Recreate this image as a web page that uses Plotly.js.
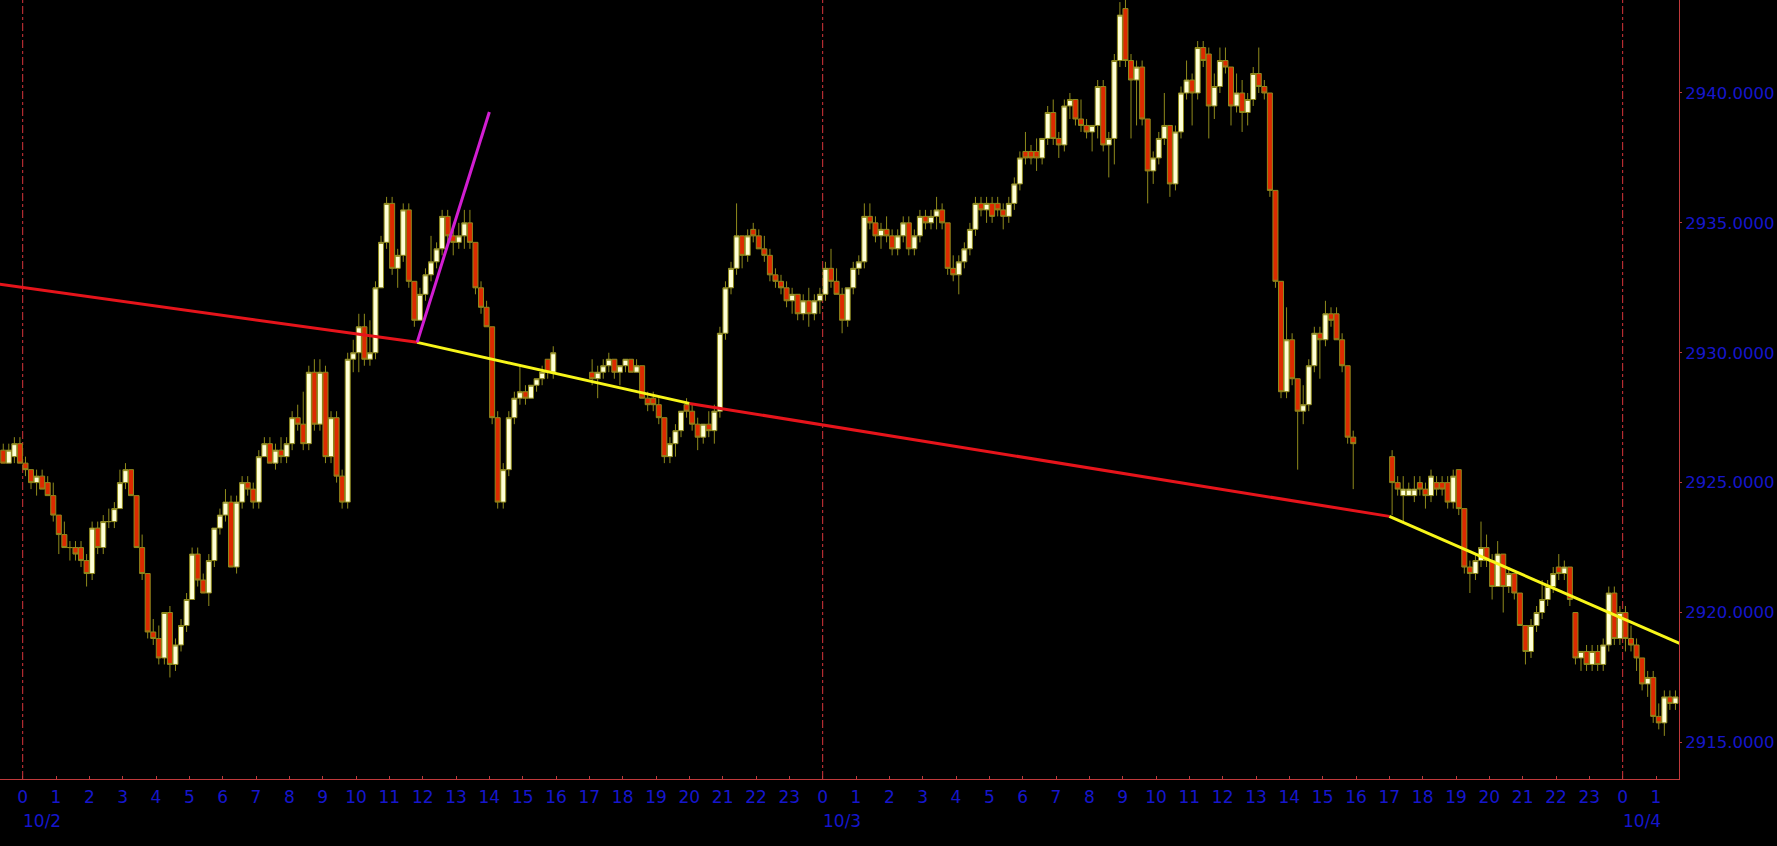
<!DOCTYPE html>
<html>
<head>
<meta charset="utf-8">
<script src="https://cdn.plot.ly/plotly-3.0.1.min.js"></script>
<style>
html,body{margin:0;padding:0;background:#000;overflow:hidden;}
#chart{width:1777px;height:846px;}
</style>
</head>
<body>
<div id="chart"></div>
<script>
// ---- sessions (10-minute bars) ----
const sessionStarts = ['2018-10-01T23:20', '2018-10-02T17:00', '2018-10-03T17:00'];
const sessionBars = [100, 138, 52];
const barMinutes = 10;

// ---- OHLC values, one line per hour ----
const openP = [
 2926.25,2925.75,2926.0,2926.5,
 2925.75,2925.5,2925.0,2925.25,2925.0,2924.5,
 2923.75,2923.0,2922.5,2922.5,2922.5,2922.0,
 2921.5,2923.25,2922.5,2923.5,2923.5,2924.0,
 2925.0,2925.5,2924.5,2922.5,2921.5,2919.25,
 2919.0,2918.25,2920.0,2918.0,2918.75,2919.5,
 2920.5,2922.25,2921.25,2920.75,2922.0,2923.25,
 2923.75,2924.25,2921.75,2924.25,2925.0,2924.75,
 2924.25,2926.0,2926.5,2925.75,2926.25,2926.0,
 2926.5,2927.5,2927.25,2926.5,2929.25,2927.25,
 2929.25,2926.0,2927.5,2925.25,2924.25,2929.75,
 2930.0,2931.0,2929.75,2930.0,2932.5,2934.25,
 2935.75,2933.25,2933.75,2935.5,2932.75,2931.25,
 2932.25,2933.0,2933.5,2934.0,2935.25,2934.5,
 2934.25,2934.5,2935.0,2934.25,2932.5,2931.75,
 2931.0,2927.5,2924.25,2925.5,2927.5,2928.25,
 2928.5,2928.25,2928.75,2929.0,2929.75,2929.25,
 // 10/2 17:00
 2929.25,2929.0,2929.25,2929.5,2929.75,2929.25,
 2929.5,2929.75,2929.25,2929.5,2928.25,2928.25,
 2928.0,2927.5,2926.0,2926.5,2927.0,2928.0,
 2927.75,2927.25,2926.75,2927.25,2927.0,2927.75,
 2930.75,2932.5,2933.25,2934.5,2933.75,2934.75,
 2934.5,2934.0,2933.75,2933.0,2932.75,2932.5,
 2932.0,2932.25,2931.5,2932.0,2931.5,2932.0,
 2932.25,2933.25,2932.75,2932.25,2931.25,2932.5,
 2933.25,2933.5,2935.25,2935.0,2934.5,2934.75,
 2934.5,2934.0,2934.5,2935.0,2934.0,2934.5,
 2935.25,2935.0,2935.25,2935.5,2935.0,2933.25,
 2933.0,2933.5,2934.0,2934.75,2935.75,2935.5,
 2935.75,2935.75,2935.5,2935.25,2935.75,2936.5,
 2937.75,2937.75,2937.75,2937.5,2938.25,2939.25,
 2938.25,2938.0,2939.5,2939.75,2939.0,2938.75,
 2938.5,2938.75,2940.25,2938.0,2938.25,2941.25,
 2943.25,2941.25,2940.5,2941.0,2939.0,2937.0,
 2937.5,2938.25,2938.75,2936.5,2938.5,2940.0,
 2940.5,2940.0,2941.75,2941.5,2939.5,2940.25,
 2941.25,2941.0,2939.5,2940.0,2939.25,2939.75,
 2940.75,2940.25,2940.0,2936.25,2932.75,2928.5,
 2930.5,2929.0,2927.75,2928.0,2929.5,2930.75,
 2930.5,2931.5,2931.5,2930.5,2929.5,2926.75,
 // 10/3 17:00
 2926.0,2925.0,2924.5,2924.5,2924.5,2925.0,
 2924.75,2924.5,2925.0,2925.0,2925.0,2924.25,
 2925.5,2924.0,2921.75,2921.5,2922.0,2922.5,
 2922.0,2921.0,2922.25,2921.0,2921.5,2920.75,
 2919.5,2918.5,2919.5,2920.0,2920.5,2921.0,
 2921.75,2921.5,2921.75,2920.0,2918.25,2918.5,
 2918.0,2918.5,2918.0,2918.75,2920.75,2919.0,
 2920.0,2919.0,2918.75,2918.25,2917.25,2917.5,
 2916.0,2915.75,2916.75,2916.5
];
const highP = [
 2926.5,2926.5,2926.75,2926.75,
 2926.0,2925.5,2925.5,2925.5,2925.25,2925.0,
 2923.75,2923.5,2922.75,2922.75,2922.75,2922.25,
 2923.5,2923.5,2923.75,2924.0,2924.25,2925.5,
 2925.75,2925.5,2924.5,2923.0,2921.5,2919.75,
 2919.5,2920.0,2920.25,2919.0,2919.75,2920.75,
 2922.5,2922.5,2921.5,2922.25,2923.25,2924.0,
 2924.75,2924.5,2924.5,2925.25,2925.25,2925.0,
 2926.25,2926.75,2926.75,2926.5,2926.75,2926.75,
 2927.75,2928.0,2928.5,2929.5,2929.75,2929.75,
 2929.5,2927.75,2927.75,2925.5,2930.0,2930.5,
 2931.5,2931.5,2931.25,2932.75,2934.5,2936.0,
 2936.0,2934.0,2935.75,2935.75,2932.75,2932.5,
 2933.25,2934.5,2934.25,2935.5,2935.5,2934.75,
 2935.0,2935.5,2935.5,2934.25,2932.75,2932.0,
 2931.0,2927.75,2925.75,2927.75,2928.5,2929.5,
 2928.75,2928.75,2929.0,2929.5,2929.75,2930.25,
 // 10/2 17:00
 2929.75,2929.5,2929.75,2930.0,2929.75,2929.5,
 2929.75,2929.75,2929.75,2929.5,2928.5,2928.5,
 2928.25,2927.5,2926.75,2927.25,2927.75,2928.25,
 2928.0,2927.5,2927.25,2927.75,2928.0,2931.0,
 2932.75,2933.5,2935.75,2934.5,2934.75,2935.0,
 2934.75,2934.5,2934.0,2933.25,2933.0,2932.75,
 2932.5,2932.25,2932.25,2932.5,2932.25,2932.5,
 2933.5,2934.0,2933.25,2932.5,2932.5,2933.5,
 2933.75,2935.75,2935.75,2935.25,2935.0,2935.25,
 2934.75,2934.75,2935.25,2935.25,2934.75,2935.5,
 2935.5,2935.5,2936.0,2935.75,2935.0,2933.75,
 2933.75,2934.25,2935.0,2936.0,2936.0,2936.0,
 2936.0,2936.0,2935.75,2936.0,2936.75,2937.75,
 2938.5,2938.0,2938.25,2938.25,2939.5,2939.75,
 2938.5,2939.75,2940.0,2939.75,2939.75,2939.0,
 2938.75,2940.5,2940.5,2938.5,2941.5,2943.5,
 2943.75,2941.5,2941.25,2941.25,2939.0,2937.75,
 2938.5,2940.0,2938.75,2938.75,2940.25,2941.25,
 2940.75,2942.0,2942.0,2941.75,2940.75,2941.75,
 2941.75,2941.0,2940.75,2940.5,2940.0,2941.0,
 2941.75,2940.5,2940.0,2936.25,2932.75,2931.75,
 2930.75,2929.0,2928.75,2929.75,2931.0,2931.0,
 2932.0,2931.75,2931.75,2930.75,2929.5,2927.0,
 // 10/3 17:00
 2926.25,2925.25,2925.25,2925.0,2925.25,2925.25,
 2925.0,2925.5,2925.25,2925.25,2925.25,2925.5,
 2925.5,2924.0,2922.0,2922.25,2923.5,2923.0,
 2922.25,2922.75,2922.25,2921.75,2921.5,2920.75,
 2919.5,2919.75,2920.25,2921.25,2921.25,2921.75,
 2922.25,2922.0,2921.75,2920.0,2918.5,2918.75,
 2918.75,2918.75,2919.0,2921.0,2921.0,2920.25,
 2920.25,2919.5,2919.0,2918.25,2917.75,2917.75,
 2916.5,2917.0,2917.0,2917.0
];
const lowP = [
 2925.75,2925.75,2925.75,2925.75,
 2925.25,2924.75,2924.5,2924.75,2924.5,2923.5,
 2922.25,2922.5,2922.0,2922.0,2921.75,2921.0,
 2921.25,2922.25,2922.25,2923.25,2923.25,2924.0,
 2924.75,2924.5,2922.5,2921.25,2919.0,2918.75,
 2918.0,2918.0,2917.5,2917.75,2918.5,2919.25,
 2920.5,2921.0,2920.75,2920.25,2921.75,2923.0,
 2923.5,2921.75,2921.5,2924.0,2924.5,2924.0,
 2924.0,2926.0,2925.75,2925.5,2925.75,2925.75,
 2926.25,2927.0,2926.25,2926.25,2927.0,2927.0,
 2925.75,2925.75,2925.0,2924.0,2924.0,2929.25,
 2929.25,2929.5,2929.5,2929.75,2932.5,2934.0,
 2933.0,2932.5,2933.5,2932.5,2931.0,2931.25,
 2932.0,2932.75,2933.25,2933.75,2934.25,2933.75,
 2934.0,2934.0,2934.0,2932.25,2931.5,2931.0,
 2927.25,2924.0,2924.0,2925.25,2927.25,2928.0,
 2928.0,2928.25,2928.5,2928.75,2929.0,2929.0,
 // 10/2 17:00
 2928.75,2928.25,2929.0,2929.25,2929.0,2928.75,
 2929.25,2929.25,2929.25,2928.25,2927.75,2927.75,
 2927.25,2925.75,2925.75,2926.0,2926.75,2927.5,
 2927.0,2926.25,2926.5,2926.75,2926.5,2927.5,
 2930.5,2932.25,2933.0,2933.25,2933.5,2934.25,
 2934.0,2933.5,2932.75,2932.5,2932.25,2931.75,
 2931.5,2931.25,2931.25,2931.0,2931.25,2931.5,
 2932.0,2932.5,2932.25,2930.75,2931.0,2932.25,
 2933.0,2933.25,2934.75,2934.25,2934.0,2934.25,
 2933.75,2933.75,2934.25,2933.75,2933.75,2934.25,
 2934.75,2934.75,2934.75,2934.75,2933.0,2932.75,
 2932.25,2933.25,2933.75,2934.5,2935.25,2935.0,
 2935.0,2935.25,2934.75,2935.0,2935.5,2936.25,
 2937.25,2937.25,2937.0,2937.25,2938.0,2938.0,
 2937.5,2937.75,2939.0,2938.75,2938.5,2938.25,
 2937.75,2938.25,2937.75,2936.75,2937.25,2941.0,
 2941.0,2938.25,2938.75,2938.75,2935.75,2936.5,
 2937.25,2938.0,2936.0,2936.25,2938.25,2939.75,
 2938.75,2939.75,2941.0,2938.25,2939.0,2940.0,
 2940.75,2938.75,2939.25,2938.5,2938.75,2939.5,
 2940.0,2939.75,2936.0,2932.5,2928.25,2928.25,
 2928.75,2925.5,2927.25,2927.75,2929.25,2929.0,
 2930.25,2931.0,2930.5,2929.25,2926.5,2924.75,
 // 10/3 17:00
 2923.75,2924.5,2923.5,2924.5,2924.25,2924.5,
 2924.0,2924.25,2924.5,2924.5,2924.0,2924.0,
 2923.75,2921.5,2920.75,2921.25,2921.75,2921.75,
 2920.5,2921.0,2920.0,2920.75,2920.5,2919.5,
 2918.0,2918.25,2919.25,2919.75,2920.25,2920.75,
 2921.25,2921.25,2920.25,2918.0,2917.75,2917.75,
 2917.75,2917.75,2917.75,2918.5,2918.75,2918.75,
 2918.5,2918.5,2917.75,2917.0,2916.75,2915.75,
 2915.5,2915.25,2916.25,2916.25
];
const closeP = [
 2925.75,2926.25,2926.5,2925.75,
 2925.5,2925.0,2925.25,2924.75,2924.5,2923.75,
 2923.0,2922.5,2922.5,2922.25,2922.0,2921.5,
 2923.25,2922.5,2923.5,2923.5,2924.0,2925.0,
 2925.5,2924.5,2922.5,2921.5,2919.25,2919.0,
 2918.25,2920.0,2918.0,2918.75,2919.5,2920.5,
 2922.25,2921.25,2920.75,2922.0,2923.25,2923.75,
 2924.25,2921.75,2924.25,2925.0,2924.75,2924.25,
 2926.0,2926.5,2925.75,2926.25,2926.0,2926.5,
 2927.5,2927.25,2926.5,2929.25,2927.25,2929.25,
 2926.0,2927.5,2925.25,2924.25,2929.75,2930.0,
 2931.0,2929.75,2930.0,2932.5,2934.25,2935.75,
 2933.25,2933.75,2935.5,2932.75,2931.25,2932.25,
 2933.0,2933.5,2934.0,2935.25,2934.5,2934.25,
 2934.5,2935.0,2934.25,2932.5,2931.75,2931.0,
 2927.5,2924.25,2925.5,2927.5,2928.25,2928.5,
 2928.25,2928.75,2929.0,2929.25,2929.25,2930.0,
 // 10/2 17:00
 2929.0,2929.25,2929.5,2929.75,2929.25,2929.5,
 2929.75,2929.25,2929.5,2928.25,2928.0,2928.0,
 2927.5,2926.0,2926.5,2927.0,2927.75,2927.75,
 2927.25,2926.75,2927.25,2927.0,2927.75,2930.75,
 2932.5,2933.25,2934.5,2933.75,2934.5,2934.5,
 2934.0,2933.75,2933.0,2932.75,2932.5,2932.0,
 2932.25,2931.5,2932.0,2931.5,2932.0,2932.25,
 2933.25,2932.75,2932.25,2931.25,2932.5,2933.25,
 2933.5,2935.25,2935.0,2934.5,2934.75,2934.5,
 2934.0,2934.5,2935.0,2934.0,2934.5,2935.25,
 2935.0,2935.25,2935.5,2935.0,2933.25,2933.0,
 2933.5,2934.0,2934.75,2935.75,2935.5,2935.75,
 2935.25,2935.5,2935.25,2935.75,2936.5,2937.5,
 2937.5,2937.5,2937.5,2938.25,2939.25,2938.25,
 2938.0,2939.5,2939.75,2939.0,2938.75,2938.5,
 2938.75,2940.25,2938.0,2938.25,2941.25,2943.0,
 2941.25,2940.5,2941.0,2939.0,2937.0,2937.5,
 2938.25,2938.75,2936.5,2938.5,2940.0,2940.5,
 2940.0,2941.75,2941.25,2939.5,2940.25,2941.25,
 2941.0,2939.5,2940.0,2939.25,2939.75,2940.75,
 2940.25,2940.0,2936.25,2932.75,2928.5,2930.5,
 2929.0,2927.75,2928.0,2929.5,2930.75,2930.5,
 2931.5,2931.25,2930.5,2929.5,2926.75,2926.5,
 // 10/3 17:00
 2925.0,2924.75,2924.75,2924.75,2924.75,2924.75,
 2924.5,2925.25,2924.75,2924.75,2924.25,2925.25,
 2924.0,2921.75,2921.5,2922.0,2922.5,2922.0,
 2921.0,2922.25,2921.0,2921.5,2920.75,2919.5,
 2918.5,2919.5,2920.0,2920.5,2921.0,2921.5,
 2921.5,2921.75,2920.5,2918.25,2918.5,2918.0,
 2918.5,2918.0,2918.75,2920.75,2919.0,2920.0,
 2919.0,2918.75,2918.25,2917.25,2917.5,2916.0,
 2915.75,2916.75,2916.5,2916.75
];

// ---- drawn trend lines (time, price) ----
const redTrendTimes = ['2018-10-01 23:00', '2018-10-02 11:50', null, '2018-10-02 20:00', '2018-10-03 17:00'];
const redTrendPrices = [2932.69, 2930.4, null, 2928.05, 2923.7];
const yellowTrendTimes = ['2018-10-02 11:50', '2018-10-02 20:00', null, '2018-10-03 17:00', '2018-10-04 01:45'];
const yellowTrendPrices = [2930.4, 2928.05, null, 2923.7, 2918.79];
const magentaTrendTimes = ['2018-10-02 11:50', '2018-10-02 14:00'];
const magentaTrendPrices = [2930.4, 2939.27];

// ---- axis labels ----
const dayStarts = ['2018-10-02 00:00', '2018-10-03 00:00', '2018-10-04 00:00'];
const dayLabels = ['10/2', '10/3', '10/4'];
const priceTicks = [2915, 2920, 2925, 2930, 2935, 2940];
const axisStart = '2018-10-02T00:00';
const axisHours = 50;

function fmt(d) { return d.toISOString().slice(0, 16).replace('T', ' '); }
const times = [];
sessionStarts.forEach(function (s, k) {
  const t0 = new Date(s + ':00Z').getTime();
  for (let i = 0; i < sessionBars[k]; i++) times.push(fmt(new Date(t0 + i * barMinutes * 60000)));
});
const hourVals = [], hourText = [];
const a0 = new Date(axisStart + ':00Z').getTime();
for (let h = 0; h < axisHours; h++) {
  const d = new Date(a0 + h * 3600000);
  hourVals.push(fmt(d));
  hourText.push(String(d.getUTCHours()));
}

const blue = '#1616cc';
const axisRed = '#c0393b';
const tickFont = {family: 'DejaVu Sans, Verdana, sans-serif', size: 17, color: blue};

const traces = [
  {
    type: 'candlestick', x: times, open: openP, high: highP, low: lowP, close: closeP,
    xperiod: barMinutes * 60000, xperiodalignment: 'middle',
    whiskerwidth: 0,
    increasing: {line: {color: '#8f8a1c', width: 1}, fillcolor: '#ffffd6'},
    decreasing: {line: {color: '#8f8a1c', width: 1}, fillcolor: '#dc2a00'},
    hoverinfo: 'skip', showlegend: false
  },
  {type: 'scatter', mode: 'lines', x: redTrendTimes, y: redTrendPrices,
   line: {color: '#e6141b', width: 3}, hoverinfo: 'skip', showlegend: false},
  {type: 'scatter', mode: 'lines', x: yellowTrendTimes, y: yellowTrendPrices,
   line: {color: '#f8f61a', width: 3}, hoverinfo: 'skip', showlegend: false},
  {type: 'scatter', mode: 'lines', x: magentaTrendTimes, y: magentaTrendPrices,
   line: {color: '#d21ed2', width: 3}, hoverinfo: 'skip', showlegend: false}
];

const shapes = dayStarts.map(function (d) {
  return {type: 'line', xref: 'x', yref: 'paper', x0: d, x1: d, y0: 0, y1: 1,
          line: {color: '#d8343a', width: 1, dash: '8px,3px,3px,3px'}, layer: 'below'};
});
const annotations = dayStarts.map(function (d, i) {
  return {x: d, xref: 'x', y: 0, yref: 'paper', text: dayLabels[i], showarrow: false,
          xanchor: 'left', yanchor: 'middle', yshift: -42, xshift: -2, font: tickFont};
});

const layout = {
  width: 1777, height: 846,
  paper_bgcolor: '#000', plot_bgcolor: '#000',
  margin: {l: 0, r: 98, t: 0, b: 67},
  showlegend: false,
  boxgap: 0.1,
  boxgroupgap: 0,
  xaxis: {
    type: 'date',
    range: ['2018-10-01 23:19:09', '2018-10-04 01:41:24'],
    tickmode: 'array', tickvals: hourVals, ticktext: hourText,
    ticks: 'inside', ticklen: 3, tickcolor: axisRed, tickwidth: 1,
    ticklabelstandoff: 3,
    showline: true, linecolor: axisRed, linewidth: 1, mirror: false,
    showgrid: false, zeroline: false, tickfont: tickFont,
    rangeslider: {visible: false}, fixedrange: true
  },
  yaxis: {
    side: 'right',
    range: [2913.59, 2943.58],
    tickmode: 'array', tickvals: priceTicks,
    ticktext: priceTicks.map(function (v) { return v.toFixed(4); }),
    ticks: 'outside', ticklen: 2, tickcolor: axisRed, tickwidth: 1,
    showline: true, linecolor: axisRed, linewidth: 1,
    showgrid: false, zeroline: false,
    tickfont: {family: 'DejaVu Sans, Verdana, sans-serif', size: 16.5, color: blue},
    fixedrange: true
  },
  shapes: shapes,
  annotations: annotations
};

Plotly.newPlot('chart', traces, layout, {displayModeBar: false, staticPlot: true});
</script>
</body>
</html>
